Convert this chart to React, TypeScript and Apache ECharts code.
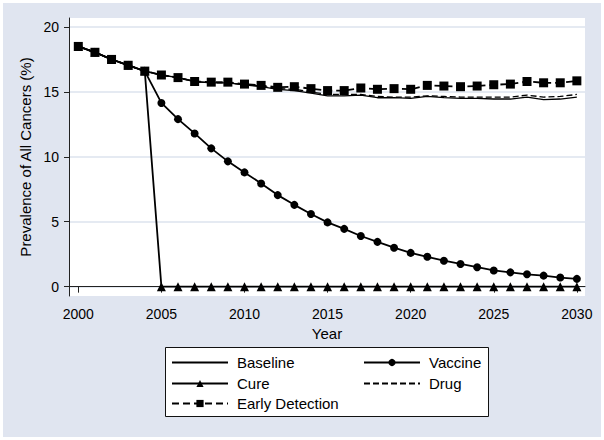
import React, { useEffect, useRef } from "react";
import * as echarts from "echarts";

const years = [2000,2001,2002,2003,2004,2005,2006,2007,2008,2009,2010,2011,2012,2013,2014,2015,2016,2017,2018,2019,2020,2021,2022,2023,2024,2025,2026,2027,2028,2029,2030];
const baseline = [18.5,18.05,17.5,17.05,16.6,16.3,16.1,15.8,15.7,15.7,15.55,15.4,15.2,15.1,14.9,14.7,14.7,14.75,14.55,14.55,14.5,14.65,14.55,14.5,14.5,14.45,14.45,14.6,14.4,14.45,14.6];
const vaccine = [18.5,18.05,17.5,17.05,16.6,14.15,12.9,11.8,10.65,9.65,8.8,7.95,7.05,6.3,5.6,4.95,4.45,3.9,3.45,3.0,2.6,2.3,2.0,1.75,1.5,1.25,1.1,0.95,0.85,0.7,0.6];
const cure = [18.5,18.05,17.5,17.05,16.6,0,0,0,0,0,0,0,0,0,0,0,0,0,0,0,0,0,0,0,0,0,0,0,0,0,0];
const drug = [18.5,18.05,17.5,17.05,16.6,16.3,16.1,15.8,15.7,15.7,15.55,15.45,15.25,15.2,15.0,14.8,14.8,14.8,14.65,14.6,14.6,14.7,14.65,14.6,14.6,14.6,14.6,14.75,14.6,14.65,14.8];
const earlyDetection = [18.5,18.05,17.5,17.05,16.6,16.3,16.1,15.8,15.75,15.75,15.6,15.5,15.35,15.4,15.25,15.1,15.1,15.3,15.2,15.25,15.2,15.5,15.45,15.4,15.45,15.55,15.6,15.8,15.7,15.7,15.85];
const xTicks = [2000,2005,2010,2015,2020,2025,2030];
const yTicks = [0,5,10,15,20];

const FONT = "'Liberation Sans', Arial, sans-serif";

function pairs(vals: number[]) {
  return years.map((y, i) => [y, vals[i]]);
}

export default function App() {
  const ref = useRef<HTMLDivElement>(null);
  useEffect(() => {
    if (!ref.current) return;
    const chart = echarts.init(ref.current, undefined, { renderer: "svg" });
    const lw = 1.8;
    const legendCommon = {
      orient: "horizontal" as const,
      padding: 0,
      itemWidth: 56,
      itemHeight: 9,
      itemGap: 0,
      textStyle: { fontSize: 15, color: "#000", fontFamily: FONT, padding: [0, 0, 0, 4] },
      selectedMode: false,
    };
    chart.setOption({
      animation: false,
      backgroundColor: "#fff",
      graphic: [
        { type: "rect", z: -100, shape: { x: 3, y: 3, width: 598, height: 434 }, style: { fill: "#e0e5f0" } },
        { type: "rect", z: 1, shape: { x: 165.5, y: 347.5, width: 323, height: 69 }, style: { fill: "#fff", stroke: "#111", lineWidth: 1 } },
      ],
      grid: { left: 69, right: 19, top: 18, bottom: 144, show: true, backgroundColor: "#fff", borderWidth: 0 },
      xAxis: {
        type: "value",
        min: 1999.44,
        max: 2030.49,
        name: "Year",
        nameLocation: "middle",
        nameGap: 22,
        nameTextStyle: { fontSize: 15, color: "#000", fontFamily: FONT },
        axisLine: { show: true, lineStyle: { color: "#222", width: 1 } },
        axisTick: { show: true, length: 6, customValues: xTicks, lineStyle: { color: "#222" } },
        axisLabel: { customValues: xTicks, formatter: (v: number) => String(v), fontSize: 14, color: "#000", fontFamily: FONT, margin: 11 },
        splitLine: { show: false },
      },
      yAxis: {
        type: "value",
        min: -0.72,
        max: 20.69,
        name: "Prevalence of All Cancers (%)",
        nameLocation: "middle",
        nameGap: 32,
        nameTextStyle: { fontSize: 15, color: "#000", fontFamily: FONT },
        axisLine: { show: true, lineStyle: { color: "#222", width: 1 } },
        axisTick: { show: true, length: 5, customValues: yTicks, lineStyle: { color: "#222" } },
        axisLabel: { customValues: yTicks, formatter: (v: number) => String(v), fontSize: 14, color: "#000", fontFamily: FONT, margin: 10 },
        splitLine: { show: true, lineStyle: { color: "#dde3ee", width: 1.5 } },
      },
      legend: [
        { ...legendCommon, left: 171, top: 355, data: [{ name: "Baseline", itemStyle: { opacity: 0 } }] },
        { ...legendCommon, left: 363, top: 355, data: [{ name: "Vaccine" }] },
        { ...legendCommon, left: 171, top: 376, data: [{ name: "Cure" }] },
        { ...legendCommon, left: 363, top: 376, data: [{ name: "Drug", itemStyle: { opacity: 0 } }] },
        { ...legendCommon, left: 171, top: 396, data: [{ name: "Early Detection" }] },
      ],
      series: [
        {
          name: "Baseline", type: "line", data: pairs(baseline), symbol: "none", showSymbol: false,
          lineStyle: { color: "#000", width: 1.3 }, itemStyle: { color: "#000" }, z: 2,
        },
        {
          name: "Drug", type: "line", data: pairs(drug), symbol: "none", showSymbol: false,
          lineStyle: { color: "#000", width: 1.3, type: [6, 3] }, itemStyle: { color: "#000" }, z: 2,
        },
        {
          name: "Cure", type: "line", data: pairs(cure), symbol: "triangle", symbolSize: 9,
          lineStyle: { color: "#000", width: lw }, itemStyle: { color: "#000" }, z: 3,
        },
        {
          name: "Vaccine", type: "line", data: pairs(vaccine), symbol: "circle", symbolSize: 8,
          lineStyle: { color: "#000", width: lw }, itemStyle: { color: "#000" }, z: 3,
        },
        {
          name: "Early Detection", type: "line", data: pairs(earlyDetection), symbol: "rect", symbolSize: 9,
          lineStyle: { color: "#000", width: lw, type: [7, 4] }, itemStyle: { color: "#000" }, z: 4,
        },
      ],
    });
    return () => chart.dispose();
  }, []);
  return <div ref={ref} style={{ position: "fixed", left: 0, top: 0, width: 604, height: 440 }} />;
}
